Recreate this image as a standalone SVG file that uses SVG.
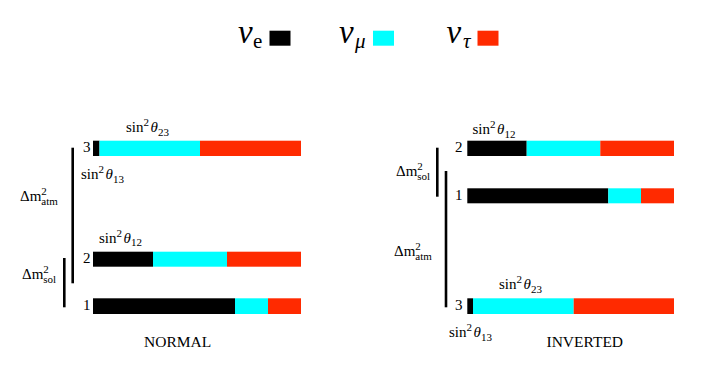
<svg xmlns="http://www.w3.org/2000/svg" width="705" height="376" viewBox="0 0 705 376">
<style>
text{font-family:"Liberation Serif","DejaVu Serif",serif;fill:#000}
.t{font-size:15px}
.s{font-size:11px}
.i{font-style:italic}
.k{fill:#000}
.c{fill:#00ffff}
.r{fill:#ff2a00}
.br{stroke:#000;stroke-width:2.6;fill:none}
.cap{font-size:15.5px}
</style>
<rect width="705" height="376" fill="#fff"/>
<g id="legend">
<g id="leg-e"><text x="238" y="43" font-size="33" class="i">ν</text><text x="253" y="48" font-size="21">e</text><rect x="269.5" y="30.7" width="21" height="15" class="k"/></g>
<g id="leg-mu"><text x="339" y="43" font-size="33" class="i">ν</text><text x="355" y="48" font-size="21" class="i">μ</text><rect x="373" y="30.7" width="21" height="15" class="c"/></g>
<g id="leg-tau"><text x="446.5" y="43" font-size="33" class="i">ν</text><text x="463" y="48" font-size="21" class="i">τ</text><rect x="477.5" y="30.7" width="21" height="15" class="r"/></g>
</g>
<g id="normal">
<g id="n3"><text x="83" y="152" class="t">3</text><rect x="93" y="140.7" width="6.5" height="15.3" class="k"/><rect x="99.5" y="140.7" width="100.5" height="15.3" class="c"/><rect x="200" y="140.7" width="101" height="15.3" class="r"/></g>
<g id="n2"><text x="83" y="263" class="t">2</text><rect x="93" y="251.7" width="60" height="15" class="k"/><rect x="153" y="251.7" width="74" height="15" class="c"/><rect x="227" y="251.7" width="74" height="15" class="r"/></g>
<g id="n1"><text x="83" y="310" class="t">1</text><rect x="93" y="298.3" width="142" height="15.7" class="k"/><rect x="235" y="298.3" width="33" height="15.7" class="c"/><rect x="268" y="298.3" width="33" height="15.7" class="r"/></g>
<g id="n-s23"><text x="126" y="132" class="t">sin<tspan dy="-6" class="s">2</tspan><tspan dy="6" dx="1.5" class="i">θ</tspan><tspan dy="3.5" class="s">23</tspan></text></g>
<g id="n-s13"><text x="81" y="179" class="t">sin<tspan dy="-6" class="s">2</tspan><tspan dy="6" dx="1.5" class="i">θ</tspan><tspan dy="3.5" class="s">13</tspan></text></g>
<g id="n-s12"><text x="99" y="242.5" class="t">sin<tspan dy="-6" class="s">2</tspan><tspan dy="6" dx="1.5" class="i">θ</tspan><tspan dy="3.5" class="s">12</tspan></text></g>
<g id="n-atm"><text x="20" y="201" class="t">Δm<tspan dy="-6" class="s">2</tspan><tspan dx="-5.5" dy="10" class="s">atm</tspan></text></g>
<g id="n-sol"><text x="22" y="279" class="t">Δm<tspan dy="-6" class="s">2</tspan><tspan dx="-5.5" dy="10" class="s">sol</tspan></text></g>
<text x="144" y="347" class="cap">NORMAL</text>
</g>
<g id="inverted">
<g id="i2"><text x="455" y="152" class="t">2</text><rect x="467.3" y="140.7" width="59.4" height="15.3" class="k"/><rect x="526.7" y="140.7" width="73.6" height="15.3" class="c"/><rect x="600.3" y="140.7" width="73.7" height="15.3" class="r"/></g>
<g id="i1"><text x="455" y="200" class="t">1</text><rect x="467.3" y="188.3" width="141" height="15" class="k"/><rect x="608.3" y="188.3" width="32.7" height="15" class="c"/><rect x="641" y="188.3" width="33" height="15" class="r"/></g>
<g id="i3"><text x="455" y="310" class="t">3</text><rect x="467.3" y="298.3" width="5.7" height="15.7" class="k"/><rect x="473" y="298.3" width="100.7" height="15.7" class="c"/><rect x="573.7" y="298.3" width="100.3" height="15.7" class="r"/></g>
<g id="i-s12"><text x="472.5" y="134" class="t">sin<tspan dy="-6" class="s">2</tspan><tspan dy="6" dx="1.5" class="i">θ</tspan><tspan dy="3.5" class="s">12</tspan></text></g>
<g id="i-s23"><text x="499" y="289" class="t">sin<tspan dy="-6" class="s">2</tspan><tspan dy="6" dx="1.5" class="i">θ</tspan><tspan dy="3.5" class="s">23</tspan></text></g>
<g id="i-s13"><text x="449" y="337" class="t">sin<tspan dy="-6" class="s">2</tspan><tspan dy="6" dx="1.5" class="i">θ</tspan><tspan dy="3.5" class="s">13</tspan></text></g>
<g id="i-sol"><text x="396" y="176" class="t">Δm<tspan dy="-6" class="s">2</tspan><tspan dx="-5.5" dy="10" class="s">sol</tspan></text></g>
<g id="i-atm"><text x="394" y="256" class="t">Δm<tspan dy="-6" class="s">2</tspan><tspan dx="-5.5" dy="10" class="s">atm</tspan></text></g>
<text x="546.5" y="347" class="cap">INVERTED</text>
</g>
<g id="connectors">
<line x1="72.7" y1="147.7" x2="72.7" y2="283.3" class="br"/>
<line x1="64.3" y1="258" x2="64.3" y2="307.3" class="br"/>
<line x1="437.3" y1="147.7" x2="437.3" y2="196.7" class="br"/>
<line x1="446" y1="171" x2="446" y2="307.3" class="br"/>
</g>
</svg>
